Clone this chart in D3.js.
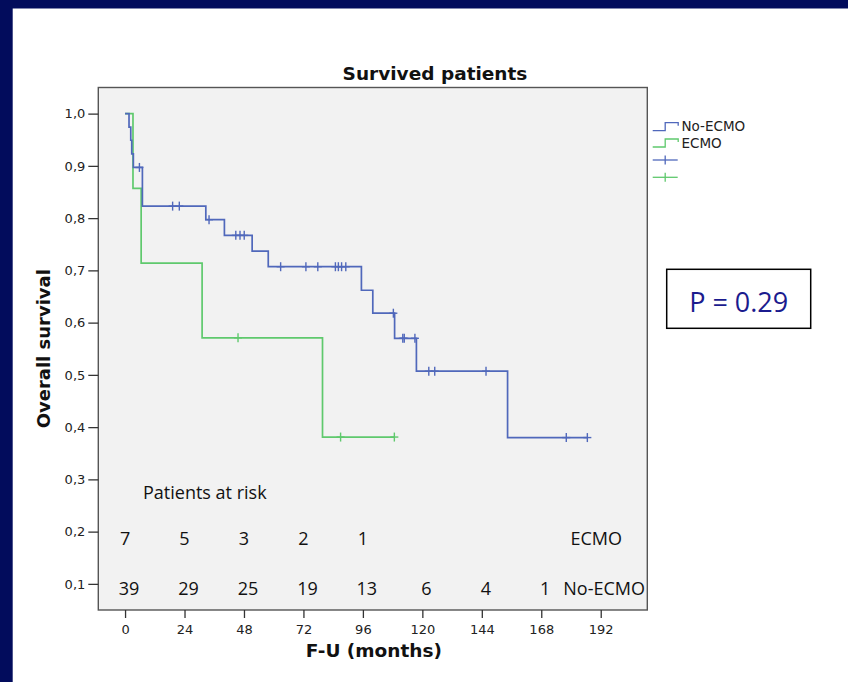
<!DOCTYPE html>
<html>
<head>
<meta charset="utf-8">
<script src="https://cdnjs.cloudflare.com/ajax/libs/d3/7.8.5/d3.min.js"></script>
<style>
    body { margin: 0; background: #fff; }
    svg { display: block; }
    .tick text { font-family: "DejaVu Sans", sans-serif; font-size: 13px; fill: #222; }
    .tick line { stroke: #333; stroke-width: 1.3; }
</style>
</head>
<body>
<svg id="chart"></svg>
<script>
// Groups and colours
const groups = ['No-ECMO', 'ECMO'];
const groupColors = ['#5068bb', '#5fc96d'];

// Kaplan-Meier steps (time in months, survival after the step)
const noEcmoTimes = [0, 1.6, 2.3, 2.7, 3.35, 7.0, 32.6, 40.1, 51.3, 57.8, 95.4, 100.0, 108.8, 117.6, 154.4];
const noEcmoSurv = [1.0, 0.974, 0.949, 0.923, 0.897, 0.823, 0.797, 0.767, 0.737, 0.707, 0.662, 0.618, 0.570, 0.507, 0.380];
const noEcmoCensor = [5.8, 19.2, 21.9, 33.9, 44.7, 46.4, 48.1, 62.8, 73.0, 77.8, 84.9, 86.1, 87.4, 89.1,
    108.3, 112.1, 112.7, 117.0, 122.6, 125.0, 145.7, 178.1, 186.6];

const ecmoTimes = [0, 3.2, 6.5, 31.1, 79.7];
const ecmoSurv = [1.0, 0.857, 0.714, 0.571, 0.381];
const ecmoCensor = [45.6, 87.0, 108.7];

// Ticks
const xTicks = [0, 24, 48, 72, 96, 120, 144, 168, 192];
const yTicks = [0.1, 0.2, 0.3, 0.4, 0.5, 0.6, 0.7, 0.8, 0.9, 1.0];

// Patients at risk table
const riskTimes = [0, 24, 48, 72, 96, 120, 144, 168];
const ecmoAtRisk = [7, 5, 3, 2, 1];
const noEcmoAtRisk = [39, 29, 25, 19, 13, 6, 4, 1];

class KMChart {
    constructor() {
        this.width = 848;
        this.height = 682;
        this.frame = {left: 98.3, right: 647.3, top: 87.5, bottom: 610};

        this.svg = d3.select('#chart')
            .attr('width', this.width)
            .attr('height', this.height);

        this.x = d3.scaleLinear()
            .domain([-10.8, 210.8])
            .range([this.frame.left, this.frame.right]);

        this.y = d3.scaleLinear()
            .domain([0.05, 1.05])
            .range([this.frame.bottom, this.frame.top]);

        this.drawBackground();
        this.drawAxes();
        this.drawCurves();
        this.drawLegend();
        this.drawRiskTable();
        this.drawPBox();
    }

    drawBackground() {
        // navy slide border on top and left
        this.svg.append('rect')
            .attr('width', this.width).attr('height', this.height)
            .attr('fill', '#020c5c');
        this.svg.append('rect')
            .attr('x', 12.7).attr('y', 8.5)
            .attr('width', this.width - 12.7).attr('height', this.height - 8.5)
            .attr('fill', '#fff');

        const f = this.frame;
        this.svg.append('rect')
            .attr('x', f.left).attr('y', f.top)
            .attr('width', f.right - f.left).attr('height', f.bottom - f.top)
            .attr('fill', '#f2f2f2')
            .attr('stroke', '#555')
            .attr('stroke-width', 1.4);

        this.svg.append('text')
            .attr('x', 435).attr('y', 80)
            .attr('text-anchor', 'middle')
            .style('font-family', '"DejaVu Sans", sans-serif')
            .style('font-weight', 'bold')
            .style('font-size', '18.5px')
            .attr('fill', '#111')
            .text('Survived patients');
    }

    drawAxes() {
        const f = this.frame;

        const yAxis = this.svg.append('g')
            .attr('transform', `translate(${f.left}, 0)`)
            .call(d3.axisLeft(this.y)
                .tickValues(yTicks)
                .tickSize(10)
                .tickPadding(3)
                .tickFormat(d => d3.format('.1f')(d).replace('.', ',')));
        yAxis.select('.domain').remove();

        const xAxis = this.svg.append('g')
            .attr('transform', `translate(0, ${f.bottom})`)
            .call(d3.axisBottom(this.x)
                .tickValues(xTicks)
                .tickSize(8)
                .tickPadding(6.5));
        xAxis.select('.domain').remove();

        this.svg.append('text')
            .attr('x', (f.left + f.right) / 2 + 1).attr('y', 656.5)
            .attr('text-anchor', 'middle')
            .style('font-family', '"DejaVu Sans", sans-serif')
            .style('font-weight', 'bold')
            .style('font-size', '18.5px')
            .attr('fill', '#111')
            .text('F-U (months)');

        this.svg.append('text')
            .attr('transform', `translate(50, ${(f.top + f.bottom) / 2}) rotate(-90)`)
            .attr('text-anchor', 'middle')
            .style('font-family', '"DejaVu Sans", sans-serif')
            .style('font-weight', 'bold')
            .style('font-size', '18px')
            .attr('fill', '#111')
            .text('Overall survival');
    }

    drawCurves() {
        const series = [
            {times: noEcmoTimes, surv: noEcmoSurv, censor: noEcmoCensor, color: groupColors[0]},
            {times: ecmoTimes, surv: ecmoSurv, censor: ecmoCensor, color: groupColors[1]}
        ];

        const line = d3.line()
            .x(d => this.x(d[0]))
            .y(d => this.y(d[1]))
            .curve(d3.curveStepAfter);

        // draw ECMO first so No-ECMO sits on top
        series.slice().reverse().forEach(s => {
            const pts = s.times.map((t, i) => [t, s.surv[i]]);
            const lastT = d3.max(s.censor);
            pts.push([lastT, s.surv[s.surv.length - 1]]);

            this.svg.append('path')
                .datum(pts)
                .attr('d', line)
                .attr('fill', 'none')
                .attr('stroke', s.color)
                .attr('stroke-width', 1.7);

            // censor crosses
            const survAt = t => s.surv[d3.bisectRight(s.times, t) - 1];
            const g = this.svg.append('g')
                .attr('stroke', s.color)
                .attr('stroke-width', 1.4);
            s.censor.forEach(t => {
                const cx = this.x(t), cy = this.y(survAt(t));
                g.append('line')
                    .attr('x1', cx).attr('x2', cx)
                    .attr('y1', cy - 4.5).attr('y2', cy + 4.5);
                g.append('line')
                    .attr('x1', cx - 4).attr('x2', cx + 4)
                    .attr('y1', cy).attr('y2', cy);
            });
        });
    }

    drawLegend() {
        const x0 = 652.7;
        const rows = [126.7, 143];

        groups.forEach((name, i) => {
            const yc = rows[i];
            this.svg.append('path')
                .attr('d', `M${x0},${yc + 4} H${x0 + 12.5} V${yc - 4} H${x0 + 25.5} V${yc - 1}`)
                .attr('fill', 'none')
                .attr('stroke', groupColors[i])
                .attr('stroke-width', 1.3);
            this.svg.append('text')
                .attr('x', 681.5).attr('y', yc + 4.5)
                .style('font-family', '"DejaVu Sans", sans-serif')
                .style('font-size', '13.5px')
                .attr('fill', '#222')
                .text(name);
        });

        // censor symbols
        [160, 177.3].forEach((yc, i) => {
            const g = this.svg.append('g')
                .attr('stroke', groupColors[i])
                .attr('stroke-width', 1.3);
            g.append('line')
                .attr('x1', x0).attr('x2', x0 + 25)
                .attr('y1', yc).attr('y2', yc);
            g.append('line')
                .attr('x1', x0 + 12.5).attr('x2', x0 + 12.5)
                .attr('y1', yc - 4.5).attr('y2', yc + 4.5);
        });
    }

    drawRiskTable() {
        const font = '"Open Sans", sans-serif';

        this.svg.append('text')
            .attr('x', 143).attr('y', 499)
            .style('font-family', font).style('font-size', '18px')
            .attr('fill', '#111')
            .text('Patients at risk');

        this.svg.append('g')
            .selectAll('text')
            .data(ecmoAtRisk)
            .join('text')
            .attr('x', (d, i) => this.x(riskTimes[i]))
            .attr('y', 545)
            .attr('text-anchor', 'middle')
            .style('font-family', font).style('font-size', '18px')
            .attr('fill', '#111')
            .text(d => d);

        this.svg.append('g')
            .selectAll('text')
            .data(noEcmoAtRisk)
            .join('text')
            .attr('x', (d, i) => this.x(riskTimes[i]) + 4)
            .attr('y', 595)
            .attr('text-anchor', 'middle')
            .style('font-family', font).style('font-size', '18px')
            .attr('fill', '#111')
            .text(d => d);

        this.svg.append('text')
            .attr('x', 622).attr('y', 545)
            .attr('text-anchor', 'end')
            .style('font-family', font).style('font-size', '18px')
            .attr('fill', '#111')
            .text(groups[1]);

        this.svg.append('text')
            .attr('x', 645).attr('y', 595)
            .attr('text-anchor', 'end')
            .style('font-family', font).style('font-size', '18px')
            .attr('fill', '#111')
            .text(groups[0]);
    }

    drawPBox() {
        this.svg.append('rect')
            .attr('x', 666.7).attr('y', 269.3)
            .attr('width', 144).attr('height', 59)
            .attr('fill', '#fff')
            .attr('stroke', '#000')
            .attr('stroke-width', 1.5);

        this.svg.append('text')
            .attr('x', 738.7).attr('y', 311.5)
            .attr('text-anchor', 'middle')
            .style('font-family', '"Open Sans", sans-serif')
            .style('font-size', '27px')
            .attr('fill', '#1b1b8e')
            .text('P = 0.29');
    }
}

new KMChart();
</script>
</body>
</html>
